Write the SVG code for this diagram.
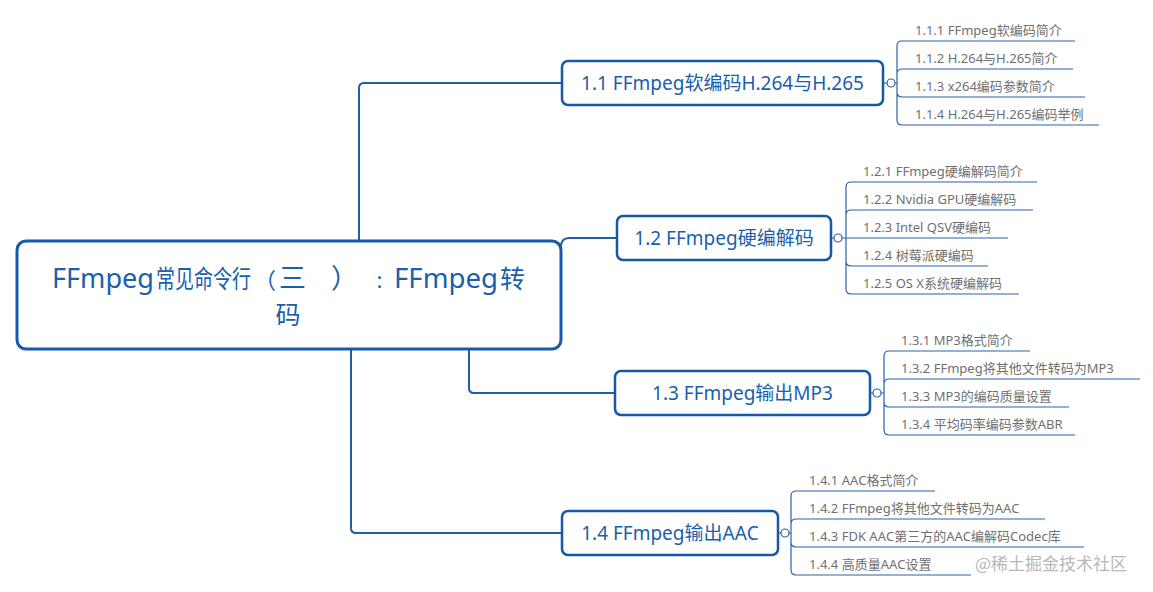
<svg xmlns="http://www.w3.org/2000/svg" width="1153" height="592" viewBox="0 0 1153 592">
<style>
  .box{fill:#fff;stroke:#1659a6;stroke-width:2.5}
  .root{fill:#fff;stroke:#1659a6;stroke-width:3}
  .conn{fill:none;stroke:#1e5ea8;stroke-width:2}
  .sub{fill:none;stroke:#2a62a8;stroke-width:1.2}
  .tog{fill:#fff;stroke:#2a62a8;stroke-width:1.2}
  text{font-feature-settings:"chws" 0,"halt" 0,"palt" 0;font-kerning:none}
  .t0{font-family:"Noto Sans","Noto Sans CJK SC",sans-serif;fill:#1a5fab;font-size:27px}
  .t1{font-family:"Noto Sans","Noto Sans CJK SC",sans-serif;fill:#1a5fab;text-anchor:middle}
  .t2{font-family:"Noto Sans","Noto Sans CJK SC",sans-serif;fill:#707070;font-size:13px}
  .wm{font-family:"Noto Sans CJK SC",sans-serif;fill:#b8b8b8;font-size:17px}
</style>
<rect width="1153" height="592" fill="#fff"/>
<g id="connectors">
  <path class="conn" d="M359,241 V88 Q359,83 364,83 H562"/>
  <path class="conn" d="M561,247 Q561,238 569,238 H617"/>
  <path class="conn" d="M469,349 V388 Q469,393 474,393 H616"/>
  <path class="conn" d="M351,349 V528 Q351,533 356,533 H562"/>
</g>
<g id="root">
  <rect class="root" x="17" y="241" width="544" height="108" rx="9"/>
  <text class="t0" y="288"><tspan x="52" textLength="102" lengthAdjust="spacingAndGlyphs">FFmpeg</tspan><tspan x="156" font-size="25" textLength="95" lengthAdjust="spacingAndGlyphs">常见命令行</tspan><tspan x="254" font-size="22">（</tspan><tspan x="279">三</tspan><tspan x="331">）</tspan><tspan x="375" font-size="18">：</tspan><tspan x="394" textLength="104" lengthAdjust="spacingAndGlyphs">FFmpeg</tspan><tspan x="500" font-size="25">转</tspan></text>
  <text class="t1" x="288" y="324" font-size="25">码</text>
</g>
<g id="n11">
  <path class="sub" d="M883,83 H887 M895,83 H897"/>
  <path class="sub" d="M897,83 V46 Q897,41 902,41 H1075 M897,83 V74 Q897,69 902,69 H1073 M897,83 V92 Q897,97 902,97 H1085 M897,83 V120 Q897,125 902,125 H1099"/>
  <circle class="tog" cx="891" cy="83" r="4"/>
  <rect class="box" x="562" y="61" width="321" height="44" rx="6"/>
  <text class="t1" x="722.5" y="90" font-size="19">1.1 FFmpeg软编码H.264与H.265</text>
  <text class="t2" x="915" y="35">1.1.1 FFmpeg软编码简介</text>
  <text class="t2" x="915" y="63">1.1.2 H.264与H.265简介</text>
  <text class="t2" x="915" y="91">1.1.3 x264编码参数简介</text>
  <text class="t2" x="915" y="119">1.1.4 H.264与H.265编码举例</text>
</g>
<g id="n12">
  <path class="sub" d="M831,238 H834 M842,238 H846"/>
  <path class="sub" d="M846,238 V187 Q846,182 851,182 H1037 M846,238 V215 Q846,210 851,210 H1033 M846,238 H1008 M846,238 V261 Q846,266 851,266 H988 M846,238 V289 Q846,294 851,294 H1019"/>
  <circle class="tog" cx="838" cy="238" r="4"/>
  <rect class="box" x="617" y="216" width="214" height="44" rx="6"/>
  <text class="t1" x="724" y="245" font-size="19">1.2 FFmpeg硬编解码</text>
  <text class="t2" x="863" y="176">1.2.1 FFmpeg硬编解码简介</text>
  <text class="t2" x="863" y="204">1.2.2 Nvidia GPU硬编解码</text>
  <text class="t2" x="863" y="232">1.2.3 Intel QSV硬编码</text>
  <text class="t2" x="863" y="260">1.2.4 树莓派硬编码</text>
  <text class="t2" x="863" y="288">1.2.5 OS X系统硬编解码</text>
</g>
<g id="n13">
  <path class="sub" d="M870,393 H873 M881,393 H884"/>
  <path class="sub" d="M884,393 V356 Q884,351 889,351 H1030 M884,393 V384 Q884,379 889,379 H1140 M884,393 V402 Q884,407 889,407 H1069 M884,393 V430 Q884,435 889,435 H1075"/>
  <circle class="tog" cx="877" cy="393" r="4"/>
  <rect class="box" x="615" y="371" width="255" height="44" rx="6"/>
  <text class="t1" x="742.5" y="400" font-size="19">1.3 FFmpeg输出MP3</text>
  <text class="t2" x="901" y="345">1.3.1 MP3格式简介</text>
  <text class="t2" x="901" y="373">1.3.2 FFmpeg将其他文件转码为MP3</text>
  <text class="t2" x="901" y="401">1.3.3 MP3的编码质量设置</text>
  <text class="t2" x="901" y="429">1.3.4 平均码率编码参数ABR</text>
</g>
<g id="n14">
  <path class="sub" d="M778,533 H781 M789,533 H791"/>
  <path class="sub" d="M791,533 V496 Q791,491 796,491 H935 M791,533 V524 Q791,519 796,519 H1045 M791,533 V542 Q791,547 796,547 H1084 M791,533 V570 Q791,575 796,575 H971"/>
  <circle class="tog" cx="785" cy="533" r="4"/>
  <rect class="box" x="562" y="511" width="216" height="44" rx="6"/>
  <text class="t1" x="670" y="540" font-size="19">1.4 FFmpeg输出AAC</text>
  <text class="t2" x="809" y="485">1.4.1 AAC格式简介</text>
  <text class="t2" x="809" y="513">1.4.2 FFmpeg将其他文件转码为AAC</text>
  <text class="t2" x="809" y="541">1.4.3 FDK AAC第三方的AAC编解码Codec库</text>
  <text class="t2" x="809" y="569">1.4.4 高质量AAC设置</text>
</g>
<text class="wm" x="975" y="570">@稀土掘金技术社区</text>
</svg>
